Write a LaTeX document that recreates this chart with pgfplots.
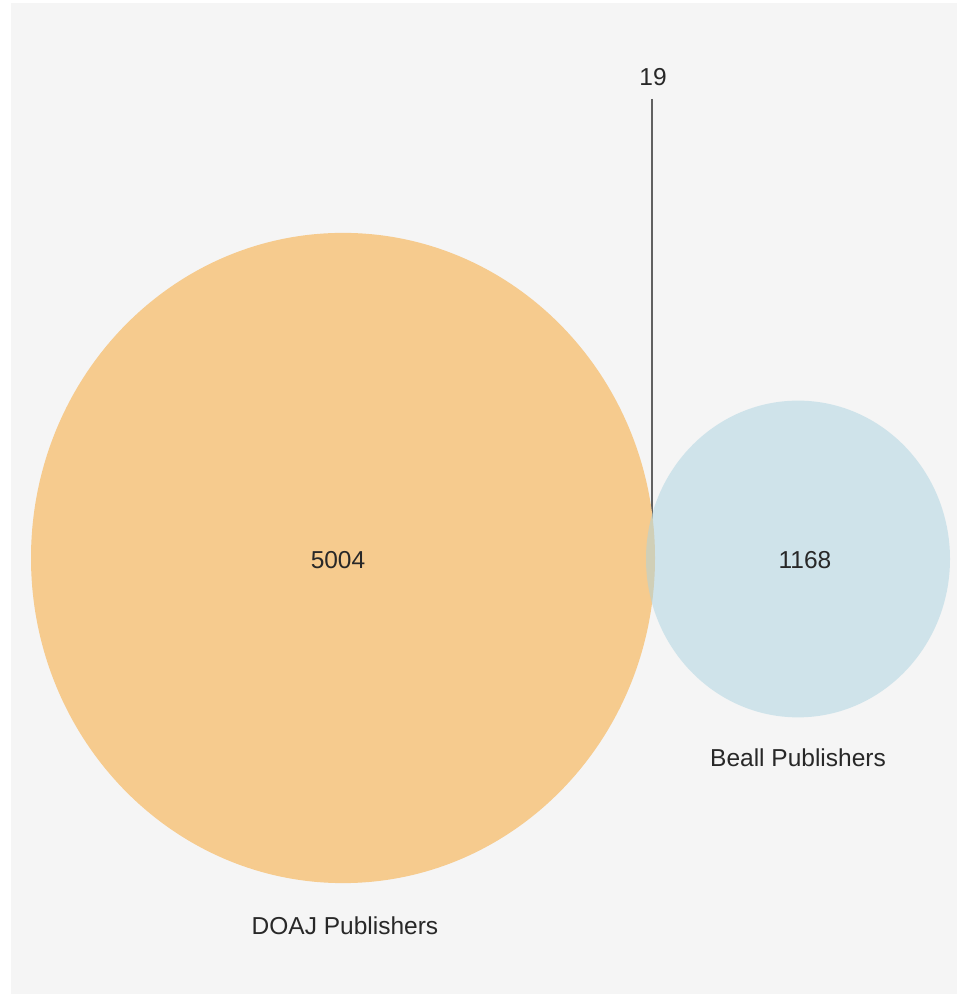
\documentclass[border={11bp 0bp 0bp 3bp}]{standalone}
\usepackage{fontspec}
\setmainfont{Liberation Sans}
\usepackage{pgfplots}
\pgfplotsset{compat=1.18}

\definecolor{bggray}{RGB}{245,245,245}
\definecolor{doaj}{RGB}{246,203,142}
\definecolor{beall}{RGB}{171,211,225}
\definecolor{txt}{RGB}{40,40,40}

\begin{document}
\begin{tikzpicture}[lbl/.style={font=\fontsize{24.5bp}{28bp}\selectfont, text=txt}]
  \begin{axis}[
    width=946bp, height=991bp,
    scale only axis,
    xmin=11, xmax=957,
    ymin=0, ymax=991,
    hide axis,
    axis background/.style={fill=bggray},
    clip=false,
  ]
  % DOAJ Publishers: 5004 only, circle centre in picture units
  \addplot[only marks, mark=*, mark size=312bp, color=doaj,
    mark options={draw opacity=0, fill=doaj, yscale=1.042}]
    coordinates {(343,436)};
  % Beall Publishers: 1168 only
  \addplot[only marks, mark=*, mark size=152bp, color=beall,
    mark options={draw opacity=0, fill=beall, fill opacity=0.5, yscale=1.042}]
    coordinates {(798,435)};
  % leader line to the overlap (19)
  \addplot[no marks, line width=1.6bp, color=black!62] coordinates {(652,895) (652,434)};

  \coordinate (n19) at (axis cs:653,917);
  \coordinate (nA) at (axis cs:338,434);
  \coordinate (nB) at (axis cs:805,434);
  \coordinate (lB) at (axis cs:798,236);
  \coordinate (lA) at (axis cs:345,68);
  \end{axis}
  \node[lbl] at (n19) {19};
  \node[lbl] at (nA) {5004};
  \node[lbl] at (nB) {1168};
  \node[lbl] at (lB) {Beall Publishers};
  \node[lbl] at (lA) {DOAJ Publishers};
\end{tikzpicture}
\end{document}
